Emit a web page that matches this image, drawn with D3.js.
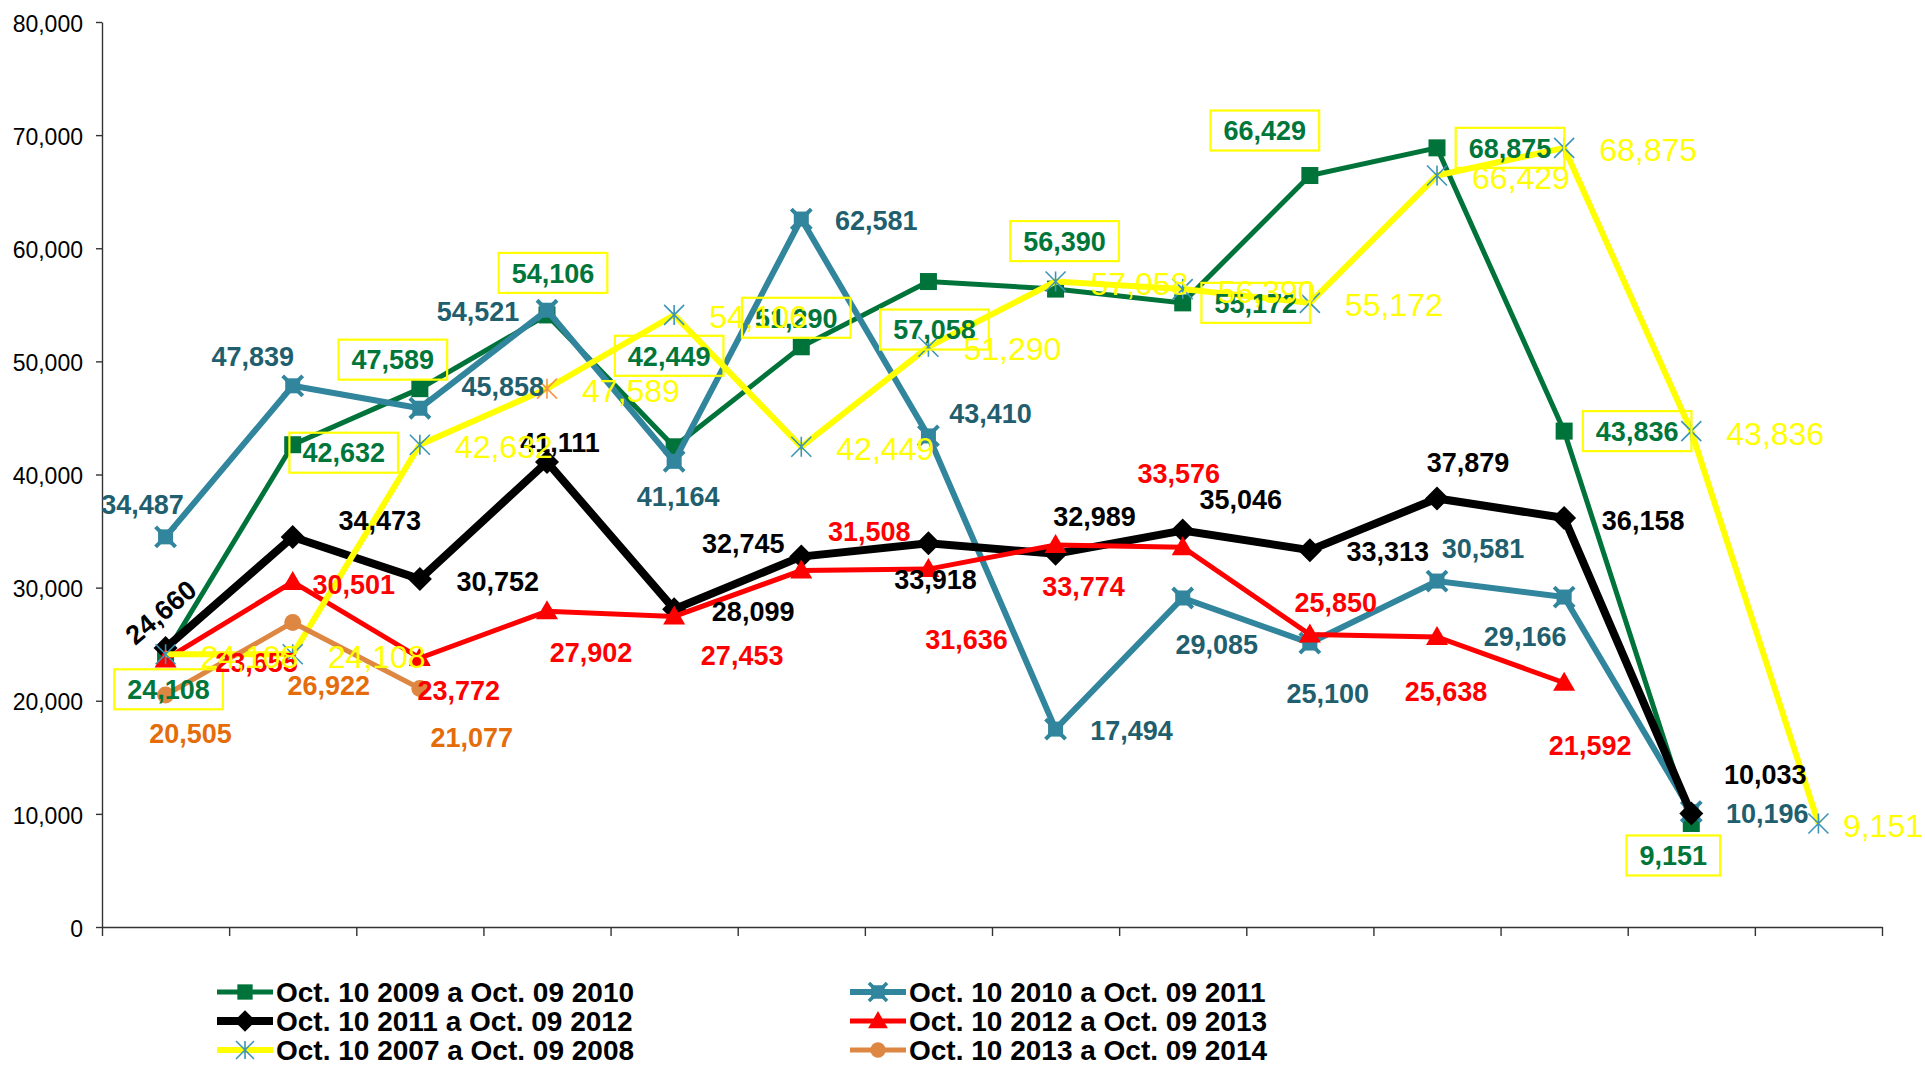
<!DOCTYPE html>
<html>
<head>
<meta charset="utf-8">
<script src="https://cdn.jsdelivr.net/npm/d3@7"></script>
<style>
body { margin: 0; background: #fff; }
svg { display: block; font-family: "Liberation Sans", Arial, sans-serif; }
</style>
</head>
<body>
<script>
const width = 1925;
const height = 1065;

const margin = {
    left: 102,
    right: 43,
    top: 22,
    bottom: 138
};

// 14 unlabelled slots on the x axis
const slots = [1, 2, 3, 4, 5, 6, 7, 8, 9, 10, 11, 12, 13, 14];
const yTicks = [0, 10000, 20000, 30000, 40000, 50000, 60000, 70000, 80000];

const names = [
    "Oct. 10 2009 a Oct. 09 2010",
    "Oct. 10 2010 a Oct. 09 2011",
    "Oct. 10 2011 a Oct. 09 2012",
    "Oct. 10 2012 a Oct. 09 2013",
    "Oct. 10 2007 a Oct. 09 2008",
    "Oct. 10 2013 a Oct. 09 2014"
];

const v2009 = [24108, 42632, 47589, 54106, 42449, 51290, 57058, 56390, 55172, 66429, 68875, 43836, 9151];
const v2010 = [34487, 47839, 45858, 54521, 41164, 62581, 43410, 17494, 29085, 25100, 30581, 29166, 10196];
const v2011 = [24660, 34473, 30752, 41111, 28099, 32745, 33918, 32989, 35046, 33313, 37879, 36158, 10033];
const v2012 = [23655, 30501, 23772, 27902, 27453, 31508, 31636, 33774, 33576, 25850, 25638, 21592];
const v2007 = [24108, 24108, 42632, 47589, 54106, 42449, 51290, 57058, 56390, 55172, 66429, 68875, 43836, 9151];
const v2013 = [20505, 26922, 21077];

// where each data label sits relative to its point (moved by hand in the original)
const nudge2009 = [[3, 35], [51, 8], [-27, -29], [6, -42], [-5, -91], [-5, -29], [6, 48], [9, -48], [73, 0], [-45, -45], [73, 0], [73, 0], [-18, 32]];
const nudge2010 = [[-23, -33], [-40, -30], [83, -22], [-69, 1], [4, 35], [75, 1], [62, -23], [76, 1], [34, 46], [18, 50], [46, -33], [-39, 39], [76, 2]];
const nudge2011 = [[-5, -36], [87, -17], [78, 2], [13, -20], [79, 2], [-58, -13], [7, 36], [39, -38], [58, -31], [78, 1], [31, -36], [79, 2], [74, -39]];
const nudge2012 = [[91, 3], [61, 2], [39, 32], [44, 41], [68, 39], [68, -39], [38, 70], [28, 41], [-4, -74], [26, -32], [9, 54], [26, 63]];
const nudge2013 = [[25, 38], [36, 63], [52, 49]];

const series = [
    {name: names[0], values: v2009, color: "#00733A", label: "#00763A", lw: 5, marker: "square", nudge: nudge2009, boxed: true},
    {name: names[1], values: v2010, color: "#31859C", label: "#215E6E", lw: 6, marker: "xsquare", nudge: nudge2010},
    {name: names[2], values: v2011, color: "#000000", label: "#000000", lw: 8, marker: "diamond", nudge: nudge2011},
    {name: names[3], values: v2012, color: "#FF0000", label: "#FF0000", lw: 5, marker: "triangle", nudge: nudge2012},
    {name: names[4], values: v2007, color: "#FFFF00", label: "#FFFF00", lw: 6, marker: "star", plain: true},
    {name: names[5], values: v2013, color: "#DE8742", label: "#E46C0A", lw: 5, marker: "circle", nudge: nudge2013}
];

let svg = d3.select("body").append("svg")
    .attr("width", width)
    .attr("height", height);

let x = d3.scaleBand()
    .domain(slots)
    .range([margin.left, width - margin.right]);

let xEdge = d3.scaleLinear()
    .domain([0, slots.length])
    .range([margin.left, width - margin.right]);

let y = d3.scaleLinear()
    .domain([0, 80000])
    .range([height - margin.bottom, margin.top]);

const cx = i => x(slots[i]) + x.bandwidth() / 2;

// axes
let yAxis = svg.append("g")
    .attr("transform", `translate(${margin.left},0)`)
    .call(d3.axisLeft(y).tickValues(yTicks).tickFormat(d3.format(",")).tickSize(6).tickSizeOuter(0).tickPadding(13));

let xAxis = svg.append("g")
    .attr("transform", `translate(0,${height - margin.bottom})`)
    .call(d3.axisBottom(xEdge).ticks(slots.length).tickFormat("").tickSize(9).tickSizeOuter(0));

svg.selectAll(".domain, .tick line")
    .attr("stroke", "#333")
    .attr("stroke-width", 1.4);

yAxis.selectAll("text")
    .style("font-size", "23px")
    .attr("fill", "#000")
    .attr("dy", "0.4em");

function drawMarker(g, type, color, s) {
    if (type === "square") {
        g.append("rect").attr("x", -8.5 * s).attr("y", -8.5 * s)
            .attr("width", 17 * s).attr("height", 17 * s).attr("fill", color);
    } else if (type === "xsquare") {
        g.append("path").attr("d", `M${-10 * s},${-10 * s}L${10 * s},${10 * s}M${-10 * s},${10 * s}L${10 * s},${-10 * s}`)
            .attr("stroke", color).attr("stroke-width", 4 * s);
        g.append("rect").attr("x", -7.5 * s).attr("y", -7.5 * s)
            .attr("width", 15 * s).attr("height", 15 * s).attr("fill", color);
    } else if (type === "diamond") {
        g.append("path").attr("d", `M0,${-12 * s}L${12 * s},0L0,${12 * s}L${-12 * s},0Z`).attr("fill", color);
    } else if (type === "triangle") {
        g.append("path").attr("d", `M0,${-11 * s}L${11 * s},${8 * s}L${-11 * s},${8 * s}Z`).attr("fill", color);
    } else if (type === "circle") {
        g.append("circle").attr("r", 8.5 * s).attr("fill", color);
    } else if (type === "star") {
        g.append("path").attr("d", `M${-10 * s},${-10 * s}L${10 * s},${10 * s}M${-10 * s},${10 * s}L${10 * s},${-10 * s}M0,${-10 * s}L0,${10 * s}`)
            .attr("stroke", color).attr("stroke-width", 1.6).attr("fill", "none");
    }
}

// lines and markers, in series order
series.forEach(s => {
    let line = d3.line()
        .x((d, i) => cx(i))
        .y(d => y(d));

    svg.append("path")
        .datum(s.values)
        .attr("d", line)
        .attr("fill", "none")
        .attr("stroke", s.color)
        .attr("stroke-width", s.lw)
        .attr("stroke-linejoin", "miter");

    s.values.forEach((v, i) => {
        let g = svg.append("g").attr("transform", `translate(${cx(i)},${y(v)})`);
        let mc = s.color;
        if (s.marker === "star") mc = (i === 3) ? "#F79646" : "#3C94B8";
        drawMarker(g, s.marker, mc, 1);
    });
});

// data labels on top
let labels = svg.append("g");
series.forEach(s => {
    s.values.forEach((v, i) => {
        let px = cx(i), py = y(v);
        let txt = d3.format(",")(v);
        if (s.plain) {
            let t = labels.append("text")
                .attr("x", px + 35)
                .attr("y", py + 2 + 0.36 * 32)
                .attr("fill", s.label)
                .style("font-size", "32px")
                .text(txt);
            let w = t.node().getComputedTextLength();
            if (px + 35 + w > width - 2) t.attr("x", width - 2 - w);
            return;
        }
        let lx = px + s.nudge[i][0], ly = py + s.nudge[i][1];
        let t = labels.append("text")
            .attr("x", lx)
            .attr("y", ly + 0.36 * 27)
            .attr("text-anchor", "middle")
            .attr("fill", s.label)
            .style("font-size", "27px")
            .style("font-weight", "bold")
            .text(txt);
        if (s.name === names[2] && i === 0) {
            t.attr("x", 0).attr("y", 0.36 * 27)
                .attr("transform", `translate(${lx},${ly}) rotate(-40)`);
        }
        if (s.boxed) {
            let w = t.node().getComputedTextLength();
            labels.insert("rect", "text")
                .attr("x", lx - w / 2 - 13)
                .attr("y", ly - 20)
                .attr("width", w + 26)
                .attr("height", 40)
                .attr("fill", "none")
                .attr("stroke", "#FFFF00")
                .attr("stroke-width", 2.2);
        }
    });
});

// legend, two columns
const legendCols = [217, 850];
const legendRows = [992, 1021, 1050];
series.forEach((s, k) => {
    let lx = legendCols[k % 2], ly = legendRows[Math.floor(k / 2)];
    let g = svg.append("g").attr("transform", `translate(${lx},${ly})`);
    g.append("line")
        .attr("x1", 0).attr("x2", 56)
        .attr("stroke", s.color)
        .attr("stroke-width", s.lw);
    let mg = g.append("g").attr("transform", "translate(28,0)");
    drawMarker(mg, s.marker, s.marker === "star" ? "#3C94B8" : s.color, 0.9);
    g.append("text")
        .attr("x", 59)
        .attr("y", 0.36 * 27)
        .style("font-size", "28px")
        .style("font-weight", "bold")
        .attr("fill", "#000")
        .text(s.name);
});
</script>
</body>
</html>
